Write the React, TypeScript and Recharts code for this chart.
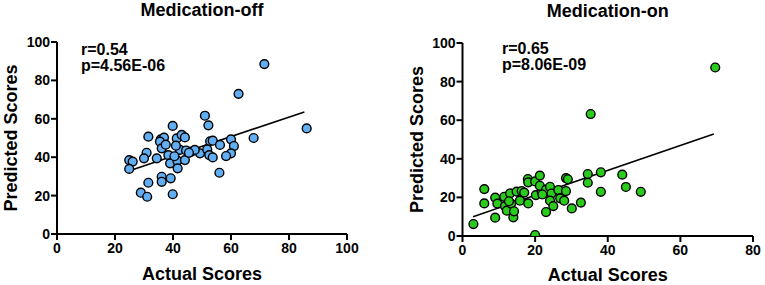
import React from 'react';
import { ScatterChart, Scatter, XAxis, YAxis, ReferenceLine } from 'recharts';

// Medication-off
const offActual = [71.5, 62.6, 86.1, 67.8, 51, 52.2, 39.9, 31.5, 35.8, 36.9, 41.3, 43, 44.1, 35.5, 52.8, 53.7, 56.2, 60, 61, 36.1, 30.9, 30, 42.4, 46.4, 49.3, 51.8, 52.5, 53.7, 60, 58.3, 34.4, 38.4, 39, 41.5, 44.1, 41.6, 24.9, 26.1, 24.9, 36.1, 39.2, 56, 31.5, 36.1, 28.9, 31.1, 39.9, 44.5, 41, 47.5, 37.5, 45.5, 40.5];
const offPredicted = [88.5, 73, 55, 50, 61.6, 56.6, 56.3, 50.7, 49.3, 50.2, 49.8, 51.6, 50.3, 48.1, 48.3, 48.6, 46.4, 49.3, 45.8, 44.6, 42.3, 39.4, 43.8, 42.9, 42, 44.1, 41.1, 39.9, 42, 40.6, 39.4, 41.1, 36.8, 38.2, 38.5, 34.2, 38.5, 37.7, 33.9, 29.8, 29, 31.9, 26.7, 27.2, 21.5, 19.4, 20.7, 43.5, 46, 43.8, 46.5, 42.3, 40.5];
const offFitX = [25.5, 85.3];
const offFitY = [33.2, 63.6];

// Medication-on
const onActual = [69.6, 35.3, 3, 20, 6, 6, 9, 9, 9.6, 11.5, 11.7, 12.2, 13.1, 13.4, 14, 14.2, 14.9, 16.3, 15.8, 18.1, 18, 18.1, 20, 21.3, 20.2, 21.8, 21.3, 23, 24.1, 24.5, 24.1, 23, 25, 26.4, 26.9, 28, 28.5, 28.5, 29, 30.1, 32.6, 34.5, 34.5, 38.1, 38.1, 44, 45, 49.1, 22, 17, 12.8];
const onPredicted = [87.3, 63.2, 6.2, 0.5, 24.3, 16.9, 19.9, 9.5, 16.8, 20.3, 15.5, 13.1, 22.1, 16.8, 9.7, 12.8, 23, 23.3, 18.3, 16.9, 29.5, 27.8, 28.3, 31.3, 21.2, 23, 26, 24, 25.5, 22, 18.3, 12.4, 15.5, 23.8, 19.5, 18.3, 23.3, 30, 29.4, 14.3, 17.3, 32.1, 27.6, 33, 22.9, 31.8, 25.4, 22.9, 21.5, 22.5, 18];
const onFitX = [2.9, 69.2];
const onFitY = [10, 52.9];

const offXTicks = [0, 20, 40, 60, 80, 100];
const onXTicks = [0, 20, 40, 60, 80];
const yTicks = [0, 20, 40, 60, 80, 100];

const offData = offActual.map((x, i) => ({ x, y: offPredicted[i] }));
const onData = onActual.map((x, i) => ({ x, y: onPredicted[i] }));

const FONT = '"Liberation Sans", Arial, Helvetica, sans-serif';
const tickStyle = { fontSize: 14, fontWeight: 700, fill: '#000', fontFamily: FONT };

const dot = (fill: string) => (p: any) => (
  <circle cx={p.cx} cy={p.cy} r={4.4} fill={fill} stroke="#000" strokeWidth={1.4} />
);

type PanelProps = {
  data: { x: number; y: number }[];
  xTicks: number[];
  xMax: number;
  fitX: number[];
  fitY: number[];
  fill: string;
  title: string;
  r: string;
  p: string;
  left: number;
  margin: { top: number; right: number; left: number; bottom: number };
  yAxisWidth: number;
  xAxisHeight: number;
  titleY: number;
  annX: number;
  annY: number;
  xLabelY: number;
  yLabelX: number;
};

function Panel(props: PanelProps) {
  const { data, xTicks, xMax, fitX, fitY, fill, title, r, p, left, margin, yAxisWidth, xAxisHeight, titleY, annX, annY, xLabelY, yLabelX } = props;
  const W = 380;
  const H = 285;
  const plotLeft = margin.left + yAxisWidth;
  const plotRight = W - margin.right;
  const plotTop = margin.top;
  const plotBottom = H - margin.bottom - xAxisHeight;
  const cx = (plotLeft + plotRight) / 2;
  const cy = (plotTop + plotBottom) / 2;
  return (
    <div style={{ position: 'absolute', left, top: 0, width: W, height: H }}>
      <ScatterChart width={W} height={H} margin={margin}>
        <XAxis
          type="number"
          dataKey="x"
          domain={[0, xMax]}
          ticks={xTicks}
          allowDataOverflow
          height={xAxisHeight}
          axisLine={{ stroke: '#000', strokeWidth: 2 }}
          tickLine={{ stroke: '#000', strokeWidth: 2 }}
          tickSize={6}
          tickMargin={3}
          tick={tickStyle}
        />
        <YAxis
          type="number"
          dataKey="y"
          domain={[0, 100]}
          ticks={yTicks}
          allowDataOverflow
          width={yAxisWidth}
          axisLine={{ stroke: '#000', strokeWidth: 2 }}
          tickLine={{ stroke: '#000', strokeWidth: 2 }}
          tickSize={6}
          tickMargin={1}
          tick={tickStyle}
        />
        <ReferenceLine
          segment={[{ x: fitX[0], y: fitY[0] }, { x: fitX[1], y: fitY[1] }]}
          stroke="#000"
          strokeWidth={1.6}
          ifOverflow="visible"
        />
        <Scatter data={data} isAnimationActive={false} shape={dot(fill)} />
      </ScatterChart>
      <svg width={W} height={H} style={{ position: 'absolute', left: 0, top: 0, pointerEvents: 'none' }}>
        <text x={cx} y={titleY} textAnchor="middle" fontFamily={FONT} fontWeight={700} fontSize={18} fill="#000">{title}</text>
        <text x={annX} y={annY} fontFamily={FONT} fontWeight={700} fontSize={16} fill="#000">{r}</text>
        <text x={annX} y={annY + 16} fontFamily={FONT} fontWeight={700} fontSize={16} fill="#000">{p}</text>
        <text x={cx} y={xLabelY} textAnchor="middle" fontFamily={FONT} fontWeight={700} fontSize={18} fill="#000">Actual Scores</text>
        <text x={yLabelX} y={cy} transform={`rotate(-90 ${yLabelX} ${cy})`} textAnchor="middle" fontFamily={FONT} fontWeight={700} fontSize={18} fill="#000">Predicted Scores</text>
      </svg>
    </div>
  );
}

export default function App() {
  return (
    <div style={{ position: 'absolute', left: 0, top: 0, width: 765, height: 285, background: '#fff' }}>
      <Panel
        data={offData}
        xTicks={offXTicks}
        xMax={100}
        fitX={offFitX}
        fitY={offFitY}
        fill="#62AEF2"
        title="Medication-off"
        r="r=0.54"
        p="p=4.56E-06"
        left={0}
        margin={{ top: 42, right: 33, left: 0, bottom: 0 }}
        yAxisWidth={57}
        xAxisHeight={51}
        titleY={16}
        annX={81}
        annY={55}
        xLabelY={280}
        yLabelX={17}
      />
      <Panel
        data={onData}
        xTicks={onXTicks}
        xMax={80}
        fitX={onFitX}
        fitY={onFitY}
        fill="#2BCB1D"
        title="Medication-on"
        r="r=0.65"
        p="p=8.06E-09"
        left={385}
        margin={{ top: 43, right: 12, left: 0, bottom: 0 }}
        yAxisWidth={77.5}
        xAxisHeight={49}
        titleY={17}
        annX={117}
        annY={54}
        xLabelY={281}
        yLabelX={38}
      />
    </div>
  );
}
